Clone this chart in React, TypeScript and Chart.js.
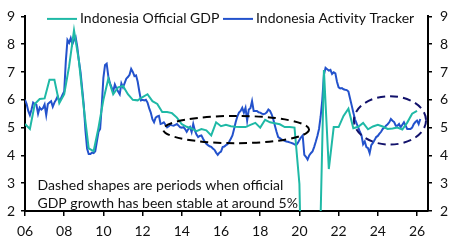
import React, { useEffect, useRef } from 'react';
import { Chart, registerables } from 'chart.js';

Chart.register(...registerables);

// ---------- DATA ----------
const seriesNames = ['Indonesia Official GDP', 'Indonesia Activity Tracker'];

// Official GDP, y/y %, quarterly from 2006 Q1
const gdpStartYear = 2006;
const gdpValues = [
  5.13, 4.95, 5.85, 6.03,
  6.05, 6.72, 6.72, 5.88,
  6.2, 7.2, 8.5, 7.4,
  5.7, 4.25, 4.15, 5.0,
  6.0, 6.76, 6.2, 6.45,
  6.5, 6.2, 6.0, 5.98,
  6.1, 6.2, 5.95, 5.85,
  5.56, 5.56, 5.52, 5.36,
  5.12, 5.03, 4.97, 4.87,
  4.95, 4.9, 4.72, 5.19,
  5.05, 5.1, 5.05, 5.03,
  5.02, 5.02, 5.1, 5.17,
  5.0, 5.28, 5.19, 5.16,
  5.12, 5.02, 5.02, 5.0,
  2.97, -5.32, -3.49, -2.19,
  -0.71, 7.07, 3.51, 5.02,
  5.02, 5.42, 5.68, 4.98,
  5.03, 5.17, 4.94, 5.04,
  5.1, 5.04, 4.95, 4.97,
  5.0, 4.93, 5.18, 5.5,
  5.6,
];

// Activity tracker, y/y %, monthly from Jan 2006
const trackerStartYear = 2006;
const trackerValues = [
  6.0, 5.85, 5.6, 5.45, 5.65, 5.9, 5.85, 5.82, 5.5, 5.72, 5.65, 5.7,
  5.83, 5.45, 5.85, 5.9, 5.95, 5.75, 5.9, 6.0, 6.12, 5.95, 6.05, 6.18,
  6.3, 7.4, 8.15, 8.05, 8.22, 8.0, 8.15, 8.25, 7.9, 7.4, 7.0, 6.4,
  5.8, 4.9, 4.25, 4.05, 4.05, 4.1, 4.08, 4.15, 4.5, 4.85, 4.95, 5.8,
  6.8, 7.25, 7.3, 6.85, 6.6, 6.45, 6.3, 6.55, 6.41, 6.3, 6.2, 6.59,
  6.45, 6.6, 6.76, 6.82, 6.9, 7.11, 7.0, 6.85, 6.88, 6.65, 6.3, 5.98,
  6.0, 5.98, 6.0, 5.9, 5.7, 5.54, 5.3, 5.19, 5.36, 5.4, 5.42, 5.13,
  5.15, 5.19, 5.1, 5.01, 5.05, 5.1, 5.08, 5.07, 5.1, 5.13, 5.07, 5.01,
  5.0, 5.02, 4.95, 4.85, 4.95, 5.02, 4.84, 5.13, 4.9, 4.75, 4.66, 4.7,
  4.72, 4.6, 4.5, 4.42, 4.37, 4.33, 4.31, 4.25, 4.2, 4.1, 4.02, 4.1,
  4.14, 4.3, 4.32, 4.37, 4.4, 4.49, 4.6, 4.72, 4.95, 5.2, 5.4, 5.54,
  5.6, 5.71, 5.54, 5.71, 5.25, 5.65, 5.7, 5.95, 5.6, 5.6, 5.6, 5.55,
  5.54, 5.5, 5.48, 5.5, 5.55, 5.65, 5.6, 5.48, 5.3, 5.07, 4.85, 4.66,
  4.62, 4.58, 4.55, 4.52, 4.5, 4.49, 4.47, 4.45, 4.43, 4.4, 4.37, 4.45,
  4.55, 4.65, 4.72, 4.02, 3.95, 3.85, 4.0, 4.08, 4.14, 4.3, 4.49, 4.7,
  4.95, 5.4, 6.0, 6.9, 7.15, 7.1, 7.05, 7.08, 6.93, 6.99, 6.95, 6.65,
  6.45, 6.41, 6.42, 6.38, 6.36, 6.35, 6.3, 6.05, 5.8, 5.54, 5.3, 5.15,
  5.01, 4.85, 4.72, 4.4, 4.5, 4.3, 4.26, 4.08, 4.37, 4.45, 4.55, 4.66,
  4.7, 4.78, 4.85, 4.95, 5.0, 5.07, 5.12, 5.19, 5.31, 5.25, 5.2, 5.07,
  5.07, 5.13, 5.01, 5.1, 5.19, 5.07, 4.95, 4.95, 4.95, 5.0, 5.13, 5.2,
  5.25, 5.13, 5.31,
];

const xTickYears = [2006, 2008, 2010, 2012, 2014, 2016, 2018, 2020, 2022, 2024, 2026];
const xMin = 2006;
const xMax = 2026.56;
const yMin = 2;
const yMax = 9;

const noteLines = [
  'Dashed shapes are periods when official',
  'GDP growth has been stable at around 5%',
];

// Periods of stable ~5% growth (centre year, centre value, half-span in years, half-span in %)
const periodCentreYear = [2016.77, 2024.62];
const periodCentreValue = [4.93, 5.26];
const periodHalfYears = [3.72, 1.84];
const periodHalfValue = [0.49, 0.87];

// ---------- STYLE ----------
const TEAL = '#1fb9a6';
const BLUE = '#2352cc';
const FONT = 'Lato, "Noto Sans", sans-serif';
const TEXT = '#111111';
const ELLIPSE_COLORS = ['#000000', '#12126b'];

const overlayPlugin = {
  id: 'overlay',
  afterDatasetsDraw(chart: any) {
    const { ctx, scales } = chart;
    const xs = scales.x;
    const ys = scales.y;
    ctx.save();
    for (let i = 0; i < periodCentreYear.length; i++) {
      const cx = xs.getPixelForValue(periodCentreYear[i]);
      const cy = ys.getPixelForValue(periodCentreValue[i]);
      const rx = Math.abs(xs.getPixelForValue(periodCentreYear[i] + periodHalfYears[i]) - cx);
      const ry = Math.abs(ys.getPixelForValue(periodCentreValue[i] + periodHalfValue[i]) - cy);
      ctx.beginPath();
      ctx.setLineDash([8, 5]);
      ctx.lineWidth = 2;
      ctx.strokeStyle = ELLIPSE_COLORS[i];
      ctx.ellipse(cx, cy, rx, ry, 0, 0, Math.PI * 2);
      ctx.stroke();
    }
    ctx.restore();
  },
  afterDraw(chart: any) {
    const { ctx, chartArea } = chart;
    ctx.save();
    ctx.font = `14px ${FONT}`;
    ctx.fillStyle = TEXT;
    ctx.textBaseline = 'alphabetic';
    ctx.textAlign = 'left';
    // legend
    const legendY = chartArea.top + 2.5;
    const colors = [TEAL, BLUE];
    const starts = [chartArea.left + 22, chartArea.left + 198];
    for (let i = 0; i < seriesNames.length; i++) {
      ctx.beginPath();
      ctx.setLineDash([]);
      ctx.strokeStyle = colors[i];
      ctx.lineWidth = 2;
      ctx.moveTo(starts[i], legendY);
      ctx.lineTo(starts[i] + 30, legendY);
      ctx.stroke();
      ctx.fillText(seriesNames[i], starts[i] + 33, legendY + 4.5);
    }
    // note
    const noteX = chartArea.left + 12.5;
    const noteY = chartArea.top + 174;
    noteLines.forEach((line, i) => {
      ctx.fillText(line, noteX, noteY + i * 18);
    });
    ctx.restore();
  },
};

export default function App() {
  const canvasRef = useRef<HTMLCanvasElement | null>(null);

  useEffect(() => {
    document.body.style.margin = '0';
    const canvas = canvasRef.current;
    if (!canvas) return;

    const gdpPoints = gdpValues.map((v, i) => ({ x: gdpStartYear + i * 0.25, y: v }));
    const trackerPoints = trackerValues.map((v, i) => ({ x: trackerStartYear + i / 12, y: v }));

    const tickFont = { family: FONT, size: 14 };
    const axisGrid = {
      display: true,
      drawOnChartArea: false,
      drawTicks: true,
      tickLength: 4,
      color: '#000',
      lineWidth: 1.5,
    };
    const axisBorder = { display: true, color: '#000', width: 2 };

    const chart = new Chart(canvas, {
      type: 'line',
      data: {
        datasets: [
          {
            label: seriesNames[0],
            data: gdpPoints,
            borderColor: TEAL,
            backgroundColor: TEAL,
            borderWidth: 2,
            pointRadius: 0,
            tension: 0,
            yAxisID: 'y',
          },
          {
            label: seriesNames[1],
            data: trackerPoints,
            borderColor: BLUE,
            backgroundColor: BLUE,
            borderWidth: 2,
            pointRadius: 0,
            tension: 0,
            yAxisID: 'y',
          },
        ],
      },
      options: {
        animation: false,
        responsive: true,
        maintainAspectRatio: false,
        layout: { padding: { top: 11, left: 0, right: 0, bottom: 0 } },
        plugins: {
          legend: { display: false },
          tooltip: { enabled: false },
        },
        scales: {
          x: {
            type: 'linear',
            min: xMin,
            max: xMax,
            afterBuildTicks: (s: any) => {
              s.ticks = xTickYears.map((v) => ({ value: v }));
            },
            afterFit: (s: any) => {
              s.height = 35;
            },
            ticks: {
              autoSkip: false,
              maxRotation: 0,
              font: tickFont,
              color: TEXT,
              padding: 7,
              callback: (v: any) => String(Math.round(v) % 100).padStart(2, '0'),
            },
            grid: { ...axisGrid, tickLength: 5 },
            border: axisBorder,
          },
          y: {
            position: 'left',
            min: yMin,
            max: yMax,
            afterFit: (s: any) => {
              s.width = 25;
            },
            ticks: { stepSize: 1, font: tickFont, color: TEXT, padding: 6 },
            grid: axisGrid,
            border: axisBorder,
          },
          y2: {
            position: 'right',
            display: true,
            min: yMin,
            max: yMax,
            afterFit: (s: any) => {
              s.width = 25;
            },
            ticks: { stepSize: 1, font: tickFont, color: TEXT, padding: 8 },
            grid: axisGrid,
            border: axisBorder,
          },
        },
      },
      plugins: [overlayPlugin],
    } as any);

    return () => chart.destroy();
  }, []);

  return (
    <div style={{ width: 453, height: 246, position: 'relative' }}>
      <canvas ref={canvasRef} />
    </div>
  );
}
